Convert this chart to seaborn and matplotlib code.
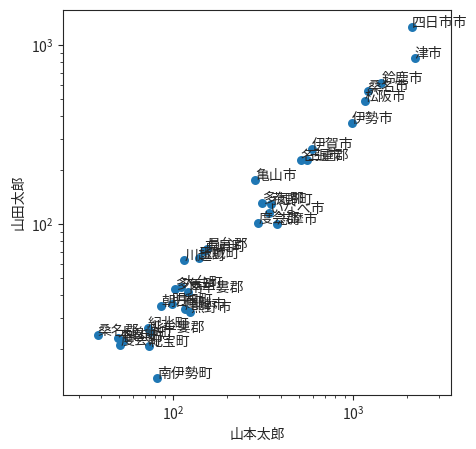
import matplotlib
matplotlib.use("Agg")
import matplotlib.pyplot as plt
import seaborn as sns
import pandas as pd

# municipality labels and the two vote counts
names = [
    "四日市市", "津市", "鈴鹿市", "桑名市", "松阪市", "伊勢市", "伊賀市",
    "名張市", "三重郡", "亀山市", "多気郡", "菰野町", "いなべ市", "度会郡",
    "志摩市", "川越町", "玉城町", "東員町", "員弁郡", "多気町", "大台町",
    "南牟婁郡", "朝日町", "明和町", "尾鷲市", "熊野市", "桑名郡", "木曽岬町",
    "紀北町", "北牟婁郡", "度会町", "紀宝町", "御浜町", "南伊勢町",
]
yamamoto = [
    2118, 2210, 1442, 1208, 1166, 987, 594,
    514, 557, 286, 313, 353, 343, 298,
    379, 116, 139, 149, 154, 103.5, 111,
    121, 86, 99, 117, 125, 38.3, 49.5,
    72.6, 74.5, 51, 73.3, 52.7, 82,
]
yamada = [
    1256, 843, 611, 556, 486, 365, 262,
    228, 227, 176, 132, 129, 115, 101,
    100, 63, 64.9, 71, 73, 43.7, 44.5,
    41.7, 34.9, 36, 33.5, 32.4, 24, 23.1,
    26.2, 24.9, 21.2, 20.8, 22.2, 13.9,
]

df = pd.DataFrame({"name": names, "山本太郎": yamamoto, "山田太郎": yamada})

sns.set_style("ticks")
plt.rcParams["font.family"] = ["Noto Sans CJK JP", "DejaVu Sans"]

fig = plt.figure(figsize=(4.76, 4.49), dpi=100)
ax = fig.add_axes([0.132, 0.12, 0.815, 0.858])

sns.scatterplot(data=df, x="山本太郎", y="山田太郎", s=42, linewidth=0,
                color="#1f77b4", ax=ax)
for _, row in df.iterrows():
    ax.text(row["山本太郎"], row["山田太郎"], row["name"], fontsize=10)

ax.set_xscale("log")
ax.set_yscale("log")
ax.set_xlim(24.5, 3500)
ax.set_ylim(11.1, 1570)
ax.set_xlabel("山本太郎", fontsize=10)
ax.set_ylabel("山田太郎", fontsize=10)
for side in ["top", "right"]:
    ax.spines[side].set_visible(True)

fig.savefig("out.png", dpi=100)
